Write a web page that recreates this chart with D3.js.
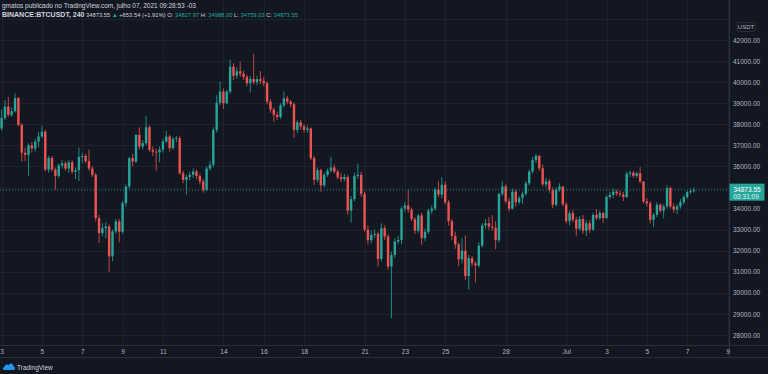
<!DOCTYPE html>
<html>
<head>
<meta charset="utf-8">
<script src="https://cdn.jsdelivr.net/npm/d3@7"></script>
<style>
  html, body { margin: 0; padding: 0; background: #131722; }
  svg { display: block; font-family: "Liberation Sans", Arial, sans-serif; }
</style>
</head>
<body>
<svg id="chart" width="768" height="374"></svg>
<script>
// BINANCE:BTCUSDT 4h bars, chart time UTC-3, first bar 2021-06-03 01:00
const FIRST_BAR = "2021-06-03T01:00:00Z";
const FIRST_OPEN = 37800;

const closes = [
  38300, 38840, 38450, 38620, 39246, 37970,
  36650, 36550, 37000, 36850, 37180, 37420,
  37650, 35850, 36400, 35850, 35550, 36050,
  36150, 35900, 36200, 35750, 35820, 36450,
  36500, 36250, 35900, 35600, 33550, 32836,
  33070, 33150, 31730, 32915, 33389, 32900,
  34258, 35048, 36391, 36233, 37497, 36944,
  37100, 37860, 36786, 36700, 36675, 36800,
  37181, 37418, 36865, 37300, 37339, 35680,
  35364, 35500, 35600, 35759, 35546, 35285,
  34890, 35900, 36075, 37734, 39020, 39551,
  39000, 39551, 40736, 40300, 40516, 40400,
  40250, 39950, 40150, 40000, 40144, 40050,
  39950, 39077, 38700, 38450, 38349, 38900,
  39230, 39077, 38950, 37734, 38092, 37900,
  37734, 37800, 36391, 35364, 35820, 35100,
  35600, 35800, 35950, 35750, 35483, 35400,
  35500, 33900, 34450, 35550, 35600, 34700,
  33000, 32500, 32750, 32800, 31608, 33070,
  32680, 31250, 31800, 32440, 32509, 34000,
  34150, 33950, 33500, 32950, 33678, 32600,
  32900, 33900, 34000, 34900, 34664, 35128,
  34300, 33400, 32700, 32300, 31594, 32000,
  30800, 31650, 31400, 31300, 32243, 33200,
  33300, 33150, 33100, 32500, 34700, 35050,
  34350, 34000, 34800, 34300, 34494, 34700,
  35200, 35760, 36300, 36500, 35912, 35150,
  35300, 34891, 34180, 34900, 35046, 34200,
  33400, 33780, 33470, 33050, 33504, 32950,
  33300, 33000, 33700, 33550, 33787, 33550,
  34550, 34650, 34800, 34720, 34669, 34550,
  35650, 35700, 35550, 35680, 35287, 34338,
  34250, 33470, 33700, 34180, 33900, 34100,
  34970, 34100, 33950, 34100, 34300, 34550,
  34780, 34827.97, 34873.55
];

const highs = [
  38700, 39150, 39300, 38800, 39476, 39289,
  38050, 36900, 37100, 37150, 37300, 37650,
  37925, 37750, 36500, 36500, 35950, 36150,
  36300, 36250, 36300, 36300, 35950, 36900,
  36650, 36600, 36800, 36000, 35700, 33700,
  33300, 33350, 33250, 33000, 33500, 33500,
  34350, 35150, 36450, 36600, 37534, 37850,
  37250, 38400, 37950, 36950, 36850, 36950,
  37300, 37680, 37500, 37400, 37450, 37438,
  35800, 35600, 35750, 35900, 35850, 35650,
  35400, 36000, 36250, 37850, 39380, 40025,
  39700, 39650, 41064, 40900, 40700, 40973,
  40550, 40350, 40300, 41330, 40300, 40527,
  40250, 40050, 39200, 38800, 38600, 39000,
  39560, 39350, 39150, 39050, 38200, 38202,
  38000, 37950, 37850, 36500, 35950, 35900,
  35700, 35900, 36457, 36100, 35850, 35700,
  35650, 35600, 34600, 35700, 36137, 35750,
  34800, 33200, 32950, 33000, 32900, 33298,
  33200, 32800, 31950, 32600, 32700, 34100,
  34300, 34881, 34050, 33600, 33750, 33800,
  33050, 34000, 34150, 35000, 35298, 35500,
  35300, 34400, 33500, 32900, 32400, 32600,
  32730, 31800, 31750, 31500, 32400, 33300,
  33500, 33600, 33700, 33400, 34749, 35297,
  35150, 34500, 34950, 34900, 34600, 34800,
  35300, 35850, 36450, 36600, 36550, 36100,
  35450, 35400, 35000, 35000, 35200, 35057,
  34300, 33900, 33950, 33600, 33650, 33700,
  33450, 33450, 33800, 33977, 33900, 33850,
  34650, 34800, 34945, 34900, 34850, 34800,
  35750, 35800, 35800, 35750, 35967, 35293,
  34500, 34350, 33800, 34300, 34250, 34200,
  35118, 35050, 34250, 34200, 34450, 34650,
  34850, 34950, 34988
];

const lows = [
  37700, 38200, 38350, 38350, 38550, 37900,
  36230, 36250, 35555, 36650, 36700, 36900,
  37350, 35750, 35700, 35750, 34900, 35450,
  35900, 35800, 35700, 35650, 35400, 35300,
  36150, 36150, 35800, 35500, 33400, 32360,
  32700, 32600, 31000, 31500, 32800, 32396,
  32800, 34100, 34950, 36000, 36150, 36800,
  36800, 37000, 36700, 36500, 35800, 36200,
  36650, 37100, 36700, 36800, 37150, 35600,
  35200, 34650, 35350, 35450, 35400, 35150,
  34757, 34850, 35800, 35950, 37600, 38900,
  38730, 38950, 39450, 40100, 40150, 40250,
  40100, 39800, 39506, 39900, 39850, 39900,
  39800, 38950, 38550, 38116, 38200, 38250,
  38800, 38950, 38800, 37365, 37600, 37750,
  37600, 37600, 36300, 35129, 35250, 34803,
  35000, 35500, 35700, 35650, 35400, 35250,
  35300, 33700, 33336, 34350, 35400, 34550,
  32900, 32300, 32350, 32600, 31251, 31500,
  32500, 31100, 28805, 31650, 32300, 32300,
  33850, 33800, 33400, 32800, 32850, 32286,
  32450, 32800, 33750, 33900, 34550, 34500,
  34200, 33200, 32500, 32100, 31275, 31400,
  30600, 30151, 31250, 30500, 31200, 32150,
  33050, 33000, 32950, 32071, 32400, 34600,
  34250, 33862, 33950, 34100, 34200, 34225,
  34600, 35100, 35650, 36150, 35800, 35050,
  35000, 34750, 34017, 34100, 34800, 34100,
  33300, 33200, 33350, 32711, 32950, 32800,
  32699, 32850, 32950, 33450, 33450, 33316,
  33500, 34450, 34500, 34600, 34550, 34357,
  34500, 35500, 35450, 35450, 35200, 34250,
  34100, 33300, 33125, 33600, 33800, 33532,
  34000, 34000, 33800, 33750, 34000, 34200,
  34450, 34700, 34759.03
];

const tickDates = [
  "2021-06-03", "2021-06-05", "2021-06-07", "2021-06-09", "2021-06-11",
  "2021-06-14", "2021-06-16", "2021-06-18", "2021-06-21", "2021-06-23",
  "2021-06-25", "2021-06-28", "2021-07-01", "2021-07-03", "2021-07-05",
  "2021-07-07", "2021-07-09"
];
const tickLabels = ["3", "5", "7", "9", "11", "14", "16", "18", "21", "23",
  "25", "28", "Jul", "3", "5", "7", "9"];

// 35000 is hidden behind the last-price tag, so it only gets a grid line
const priceTicks = [28000, 29000, 30000, 31000, 32000, 33000, 34000,
  36000, 37000, 38000, 39000, 40000, 41000, 42000];
const gridPrices = [...priceTicks, 35000, 43000];

const lastPrice = 34873.55;
const countdown = "03:31:09";

const headerTitle = "gmatos publicado no TradingView.com, julho 07, 2021 09:28:53 -03";
const headerSymbol = "BINANCE:BTCUSDT, 240";
const headerParts = [
  { t: " 34873.55 ", c: "#d1d4dc" },
  { t: "▲ ", c: "#26a69a" },
  { t: "+653.54 (+1.91%) ", c: "#d1d4dc" },
  { t: "O: ", c: "#d1d4dc" }, { t: "34827.97 ", c: "#26a69a" },
  { t: "H: ", c: "#d1d4dc" }, { t: "34988.00 ", c: "#26a69a" },
  { t: "L: ", c: "#d1d4dc" }, { t: "34759.03 ", c: "#26a69a" },
  { t: "C: ", c: "#d1d4dc" }, { t: "34873.55", c: "#26a69a" }
];

const UP = "#26a69a", DOWN = "#ef5350";
const BG = "#131722", GRID = "#1e222d", BORDER = "#2a2e39", TEXT = "#b2b5be";

const W = 768, H = 374;
const plotRight = 729, plotBottom = 345, axisBottom = 357;
const H4 = 4 * 3600 * 1000;
const t0 = new Date(FIRST_BAR);

const candles = closes.map((c, i) => ({
  t: new Date(+t0 + i * H4),
  o: i === 0 ? FIRST_OPEN : closes[i - 1],
  h: highs[i],
  l: lows[i],
  c
}));

const x = d3.scaleUtc()
  .domain([t0, new Date(+t0 + 216 * H4)])
  .range([1.6, 727.5]);
const y = d3.scaleLinear()
  .domain([28000, 42000])
  .range([335, 40]);

const svg = d3.select("#chart");
svg.append("rect").attr("width", W).attr("height", H).attr("fill", BG);

const plot = svg.append("g");
svg.append("defs").append("clipPath").attr("id", "plot-clip")
  .append("rect").attr("width", plotRight).attr("height", plotBottom);

// grid
const tickTimes = tickDates.map(d => new Date(d + "T01:00:00Z"));
plot.append("g").selectAll("line").data(gridPrices).join("line")
  .attr("x1", 0).attr("x2", plotRight)
  .attr("y1", d => Math.round(y(d)) + 0.5).attr("y2", d => Math.round(y(d)) + 0.5)
  .attr("stroke", GRID).attr("stroke-width", 1);
plot.append("g").selectAll("line").data(tickTimes).join("line")
  .attr("x1", d => Math.round(x(d)) + 0.5).attr("x2", d => Math.round(x(d)) + 0.5)
  .attr("y1", 0).attr("y2", plotBottom)
  .attr("stroke", GRID).attr("stroke-width", 1);

// candles
const cg = plot.append("g").attr("clip-path", "url(#plot-clip)");
const bars = cg.selectAll("g").data(candles).join("g")
  .attr("fill", d => d.c >= d.o ? UP : DOWN)
  .attr("stroke", d => d.c >= d.o ? UP : DOWN);
bars.append("line")
  .attr("x1", d => x(d.t)).attr("x2", d => x(d.t))
  .attr("y1", d => y(d.h)).attr("y2", d => y(d.l))
  .attr("stroke-width", 0.8);
bars.append("rect")
  .attr("x", d => x(d.t) - 1.2).attr("width", 2.4)
  .attr("y", d => y(Math.max(d.o, d.c)))
  .attr("height", d => Math.max(0.8, Math.abs(y(d.o) - y(d.c))))
  .attr("stroke", "none");

// last price line
plot.append("line")
  .attr("x1", 0).attr("x2", plotRight)
  .attr("y1", y(lastPrice)).attr("y2", y(lastPrice))
  .attr("stroke", UP).attr("stroke-width", 0.8).attr("stroke-dasharray", "1,2");

// borders
svg.append("line").attr("x1", plotRight + 0.5).attr("x2", plotRight + 0.5)
  .attr("y1", 0).attr("y2", axisBottom).attr("stroke", BORDER);
svg.append("line").attr("x1", 0).attr("x2", W)
  .attr("y1", plotBottom + 0.5).attr("y2", plotBottom + 0.5).attr("stroke", BORDER);
svg.append("line").attr("x1", 0).attr("x2", W)
  .attr("y1", axisBottom + 0.5).attr("y2", axisBottom + 0.5).attr("stroke", BORDER);

// price axis
const yAxis = svg.append("g")
  .attr("transform", `translate(${plotRight},0)`)
  .call(d3.axisRight(y).tickValues(priceTicks).tickSize(0).tickPadding(4)
    .tickFormat(d3.format(".2f")));
yAxis.select(".domain").remove();
yAxis.selectAll("text").attr("fill", TEXT).attr("font-size", 6.5)
  .attr("font-family", "Liberation Sans, Arial, sans-serif");

// currency label
const cur = svg.append("g").attr("transform", "translate(746,27)");
cur.append("rect").attr("x", -9).attr("y", -4.5).attr("width", 18).attr("height", 9)
  .attr("fill", BG).attr("stroke", BORDER).attr("rx", 1);
cur.append("text").attr("text-anchor", "middle").attr("dy", "0.35em")
  .attr("font-size", 6).attr("fill", TEXT).text("USDT");

// last price tag
const tag = svg.append("g").attr("transform", `translate(${plotRight + 0.5},${y(lastPrice)})`);
tag.append("rect").attr("x", 0).attr("y", -6.5).attr("width", 35).attr("height", 17)
  .attr("fill", UP);
tag.append("text").attr("x", 4).attr("y", 2.2).attr("font-size", 6.5)
  .attr("fill", "#ffffff").text(d3.format(".2f")(lastPrice));
tag.append("text").attr("x", 4).attr("y", 8.8).attr("font-size", 6.5)
  .attr("fill", "#ffffff").attr("opacity", 0.85).text(countdown);

// time axis
const xAxis = svg.append("g")
  .attr("transform", `translate(0,${plotBottom})`)
  .call(d3.axisBottom(x).tickValues(tickTimes).tickSize(0).tickPadding(4)
    .tickFormat((d, i) => tickLabels[i]));
xAxis.select(".domain").remove();
xAxis.selectAll("text").attr("fill", TEXT).attr("font-size", 6.5)
  .attr("font-family", "Liberation Sans, Arial, sans-serif");

// header
svg.append("text").attr("x", 2).attr("y", 7.5).attr("font-size", 6.5)
  .attr("fill", "#d1d4dc").text(headerTitle);
const h2 = svg.append("text").attr("x", 2).attr("y", 16.5)
  .attr("font-size", 5.8).attr("xml:space", "preserve");
h2.append("tspan").attr("font-size", 7).attr("font-weight", "bold")
  .attr("fill", "#d1d4dc").text(headerSymbol);
h2.selectAll("tspan.part").data(headerParts).join("tspan")
  .attr("class", "part")
  .attr("fill", d => d.c).text(d => d.t);

// watermark
const wm = svg.append("g").attr("transform", "translate(3,362)");
wm.append("path")
  .attr("d", "M1,8 C-0.5,8 -0.5,5 1.5,5 C1.5,2.5 4.5,1.5 5.5,3.5 C6.5,0.5 10.5,1 10.5,4.5 C12.5,4.5 12.5,8 10.5,8 Z")
  .attr("fill", "#2196f3");
wm.append("text").attr("x", 14).attr("y", 7.5).attr("font-size", 6.5)
  .attr("fill", "#d1d4dc").text("TradingView");
</script>
</body>
</html>
